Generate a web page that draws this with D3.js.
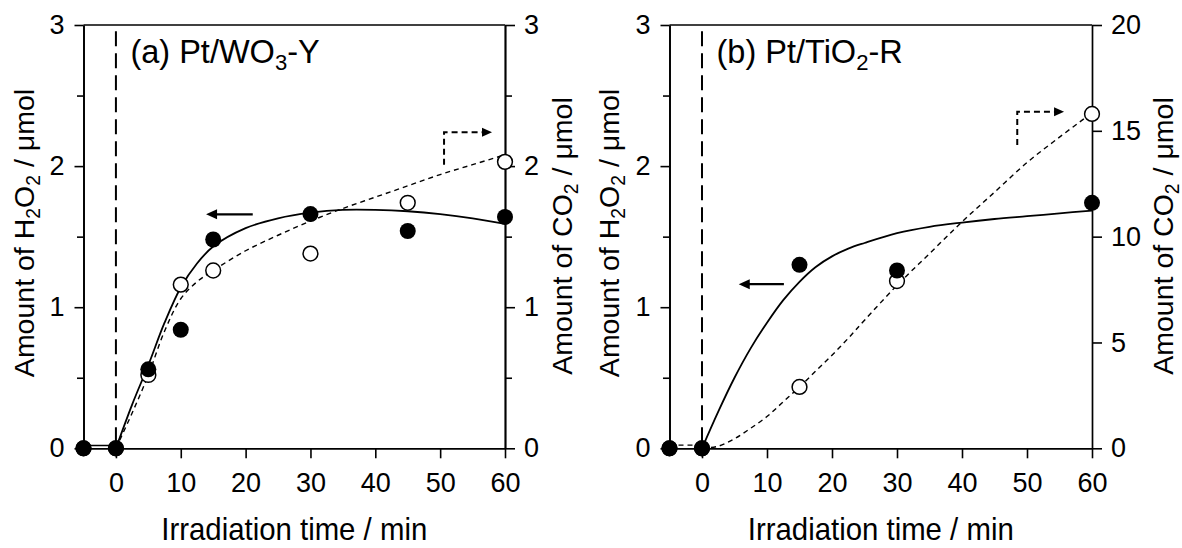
<!DOCTYPE html>
<html>
<head>
<meta charset="utf-8">
<script src="https://cdn.jsdelivr.net/npm/d3@7"></script>
<style>
  html, body { margin: 0; padding: 0; background: #fff; }
  svg { display: block; font-family: "Liberation Sans", Arial, Helvetica, sans-serif; }
</style>
</head>
<body>
<svg id="chart" width="1182" height="548"></svg>
<script>
// ---- Measured points: irradiation time (min) vs amount (μmol) ----
const timesA = [-5, 0, 5, 10, 15, 30, 45, 60];
const h2o2A  = [0, 0, 0.56, 0.84, 1.48, 1.66, 1.54, 1.64];
const co2A   = [0, 0, 0.52, 1.16, 1.26, 1.38, 1.74, 2.03];

const timesB = [-5, 0, 15, 30, 60];
const h2o2B  = [0, 0, 1.30, 1.26, 1.74];
const co2B   = [0, 0, 2.9, 7.9, 15.8];

// ---- Fitted trend curves ----
const fitTimesA = [0, 2.5, 5, 7.5, 10, 12.5, 15, 20, 25, 30, 35, 40, 45, 50, 55, 60];
const h2o2FitA  = [0, 0.31, 0.59, 0.89, 1.14, 1.31, 1.43, 1.56, 1.63, 1.67, 1.69, 1.69, 1.68, 1.66, 1.63, 1.59];
const co2FitA   = [0, 0.25, 0.52, 0.83, 1.06, 1.18, 1.26, 1.40, 1.51, 1.61, 1.70, 1.78, 1.86, 1.94, 2.01, 2.08];

const fitTimesB = [0, 2.5, 5, 7.5, 10, 12.5, 15, 17.5, 20, 22.5, 25, 30, 35, 40, 45, 50, 55, 60];
const h2o2FitB  = [0, 0.26, 0.50, 0.71, 0.89, 1.05, 1.18, 1.285, 1.36, 1.415, 1.455, 1.525, 1.57, 1.60, 1.625, 1.645, 1.665, 1.685];
const co2FitB   = [0, 0.10, 0.45, 0.95, 1.5, 2.2, 2.9, 3.65, 4.4, 5.2, 6.05, 7.7, 9.2, 10.7, 12.1, 13.5, 14.7, 15.85];

// Dark period (before irradiation) baseline traces
const darkTimes  = [-5, 0];
const darkH2o2A  = [0.02, 0.02];
const darkCo2B   = [0.15, 0.15];

// ---- Axis ticks ----
const xTicks       = [0, 10, 20, 30, 40, 50, 60];
const leftMajor    = [0, 1, 2, 3];
const leftMinor    = [0.5, 1.5, 2.5];
const rightMajorA  = [0, 1, 2, 3];
const rightMinorA  = [0.5, 1.5, 2.5];
const rightMajorB  = [0, 5, 10, 15, 20];

const svg = d3.select("#chart");
const TICK_FONT = 27;

// Helper: text with subscript runs. parts = [[string, isSub], ...]
function richText(t, parts, size) {
  parts.forEach(([s, sub], i) => {
    const prevSub = i > 0 && parts[i - 1][1];
    const ts = t.append("tspan").text(s);
    if (sub) ts.attr("font-size", size * 0.68).attr("dy", size * 0.22);
    else if (prevSub) ts.attr("dy", -size * 0.22);
  });
  return t;
}

function panel(cfg) {
  const g = svg.append("g");
  const x = d3.scaleLinear().domain([-5, 60]).range([cfg.x0, cfg.x1]);
  const yL = d3.scaleLinear().domain([0, 3]).range([448.3, 25]);
  const yR = d3.scaleLinear().domain([0, cfg.rightMax]).range([448.3, 25]);

  const styleAxis = a => {
    a.selectAll("path.domain").attr("stroke", "#000").attr("stroke-width", 1.7);
    a.selectAll(".tick line").attr("stroke", "#000").attr("stroke-width", 1.6);
    a.selectAll(".tick text").attr("fill", "#000").attr("font-size", TICK_FONT)
      .attr("font-family", '"Liberation Sans", Arial, sans-serif');
    a.attr("font-family", null).attr("font-size", null);
  };

  // frame top line
  g.append("line").attr("x1", cfg.x0).attr("x2", cfg.x1)
    .attr("y1", yL(3)).attr("y2", yL(3))
    .attr("stroke", "#000").attr("stroke-width", 1.7);

  // left axis
  g.append("g").attr("transform", `translate(${cfg.x0},0)`)
    .call(d3.axisLeft(yL).tickValues(leftMinor).tickSize(6.5).tickSizeOuter(0).tickFormat(""))
    .call(styleAxis);
  g.append("g").attr("transform", `translate(${cfg.x0},0)`)
    .call(d3.axisLeft(yL).tickValues(leftMajor).tickSize(9).tickSizeOuter(0).tickPadding(10).tickFormat(d3.format("d")))
    .call(styleAxis);

  // right axis
  if (cfg.rightMinor.length) {
    g.append("g").attr("transform", `translate(${cfg.x1},0)`)
      .call(d3.axisRight(yR).tickValues(cfg.rightMinor).tickSize(7).tickSizeOuter(0).tickFormat(""))
      .call(styleAxis);
  }
  g.append("g").attr("transform", `translate(${cfg.x1},0)`)
    .call(d3.axisRight(yR).tickValues(cfg.rightMajor).tickSize(10).tickSizeOuter(0).tickPadding(9).tickFormat(d3.format("d")))
    .call(styleAxis);

  // bottom axis
  g.append("g").attr("transform", `translate(0,${yL(0)})`)
    .call(d3.axisBottom(x).tickValues(xTicks).tickSize(10).tickSizeOuter(0).tickPadding(15))
    .call(styleAxis);

  // light-on marker at t = 0
  g.append("line").attr("x1", x(0)).attr("x2", x(0))
    .attr("y1", yL(2.955)).attr("y2", yL(0))
    .attr("stroke", "#000").attr("stroke-width", 2).attr("stroke-dasharray", "15,7");

  // trend curves
  const ft = cfg.fitTimes;
  const lineL = d3.line().x((d, i) => x(ft[i])).y(d => yL(d)).curve(d3.curveCatmullRom.alpha(0.5));
  const lineR = d3.line().x((d, i) => x(ft[i])).y(d => yR(d)).curve(d3.curveCatmullRom.alpha(0.5));
  g.append("path").attr("d", lineR(cfg.co2Fit)).attr("fill", "none")
    .attr("stroke", "#000").attr("stroke-width", 1.4).attr("stroke-dasharray", "5,4");
  g.append("path").attr("d", lineL(cfg.h2o2Fit)).attr("fill", "none")
    .attr("stroke", "#000").attr("stroke-width", 1.8);

  // dark-period traces
  if (cfg.darkH2o2) {
    g.append("path").attr("d", d3.line().x((d, i) => x(darkTimes[i])).y(d => yL(d))(cfg.darkH2o2))
      .attr("fill", "none").attr("stroke", "#000").attr("stroke-width", 1.6);
  }
  if (cfg.darkCo2) {
    g.append("path").attr("d", d3.line().x((d, i) => x(darkTimes[i])).y(d => yR(d))(cfg.darkCo2))
      .attr("fill", "none").attr("stroke", "#000").attr("stroke-width", 1.4).attr("stroke-dasharray", "5,4");
  }

  // CO2 points (open) then H2O2 points (filled)
  g.selectAll("circle.co2").data(cfg.co2).join("circle").attr("class", "co2")
    .attr("cx", (d, i) => x(cfg.times[i])).attr("cy", d => yR(d)).attr("r", 7.4)
    .attr("fill", "#fff").attr("stroke", "#000").attr("stroke-width", 1.5);
  g.selectAll("circle.h2o2").data(cfg.h2o2).join("circle").attr("class", "h2o2")
    .attr("cx", (d, i) => x(cfg.times[i])).attr("cy", d => yL(d)).attr("r", 8)
    .attr("fill", "#000");

  // arrow pointing to the left axis (H2O2)
  const sa = cfg.solidArrow;
  g.append("line").attr("x1", x(sa[0])).attr("x2", x(sa[1]) + 8)
    .attr("y1", yL(sa[2])).attr("y2", yL(sa[2]))
    .attr("stroke", "#000").attr("stroke-width", 2.2);
  g.append("path")
    .attr("d", `M${x(sa[1])},${yL(sa[2])} l11,-5 l0,10 z`).attr("fill", "#000");

  // elbow arrow pointing to the right axis (CO2)
  const da = cfg.dashArrow;
  g.append("path")
    .attr("d", `M${x(da[0])},${yL(da[1])} L${x(da[0])},${yL(da[2])} L${x(da[3]) - 8},${yL(da[2])}`)
    .attr("fill", "none").attr("stroke", "#000").attr("stroke-width", 2).attr("stroke-dasharray", "6,4");
  g.append("path")
    .attr("d", `M${x(da[3])},${yL(da[2])} l-10,-4.5 l0,9 z`).attr("fill", "#000");

  // panel label
  richText(g.append("text").attr("x", x(0) + 14.5).attr("y", 63).attr("font-size", 32.5).attr("fill", "#000"),
    cfg.label, 32.5);

  // axis titles
  const cx = (cfg.x0 + cfg.x1) / 2;
  g.append("text").attr("x", cx).attr("y", 540).attr("text-anchor", "middle")
    .attr("font-size", 30.5).attr("textLength", 266).attr("lengthAdjust", "spacingAndGlyphs")
    .attr("fill", "#000").text("Irradiation time / min");

  richText(g.append("text").attr("transform", `translate(${cfg.leftTitleX},233) rotate(-90)`)
    .attr("text-anchor", "middle").attr("font-size", 28.5).attr("fill", "#000"),
    [["Amount of H", false], ["2", true], ["O", false], ["2", true], [" / μmol", false]], 28.5);

  richText(g.append("text").attr("transform", `translate(${cfg.rightTitleX},236) rotate(-90)`)
    .attr("text-anchor", "middle").attr("font-size", 28.5).attr("fill", "#000"),
    [["Amount of CO", false], ["2", true], [" / μmol", false]], 28.5);
}

panel({
  x0: 83.5, x1: 505, rightMax: 3,
  rightMajor: rightMajorA, rightMinor: rightMinorA,
  times: timesA, h2o2: h2o2A, co2: co2A,
  fitTimes: fitTimesA, h2o2Fit: h2o2FitA, co2Fit: co2FitA,
  darkH2o2: darkH2o2A, darkCo2: null,
  solidArrow: [21.1, 13.9, 1.658],
  dashArrow: [50.6, 2.01, 2.24, 58.0],
  label: [["(a) Pt/WO", false], ["3", true], ["-Y", false]],
  leftTitleX: 33.8, rightTitleX: 571.5
});

panel({
  x0: 669.5, x1: 1092, rightMax: 20,
  rightMajor: rightMajorB, rightMinor: [],
  times: timesB, h2o2: h2o2B, co2: co2B,
  fitTimes: fitTimesB, h2o2Fit: h2o2FitB, co2Fit: co2FitB,
  darkH2o2: null, darkCo2: darkCo2B,
  solidArrow: [12.6, 5.65, 1.163],
  dashArrow: [48.5, 2.15, 2.386, 55.7],
  label: [["(b) Pt/TiO", false], ["2", true], ["-R", false]],
  leftTitleX: 618.5, rightTitleX: 1173
});
</script>
</body>
</html>
